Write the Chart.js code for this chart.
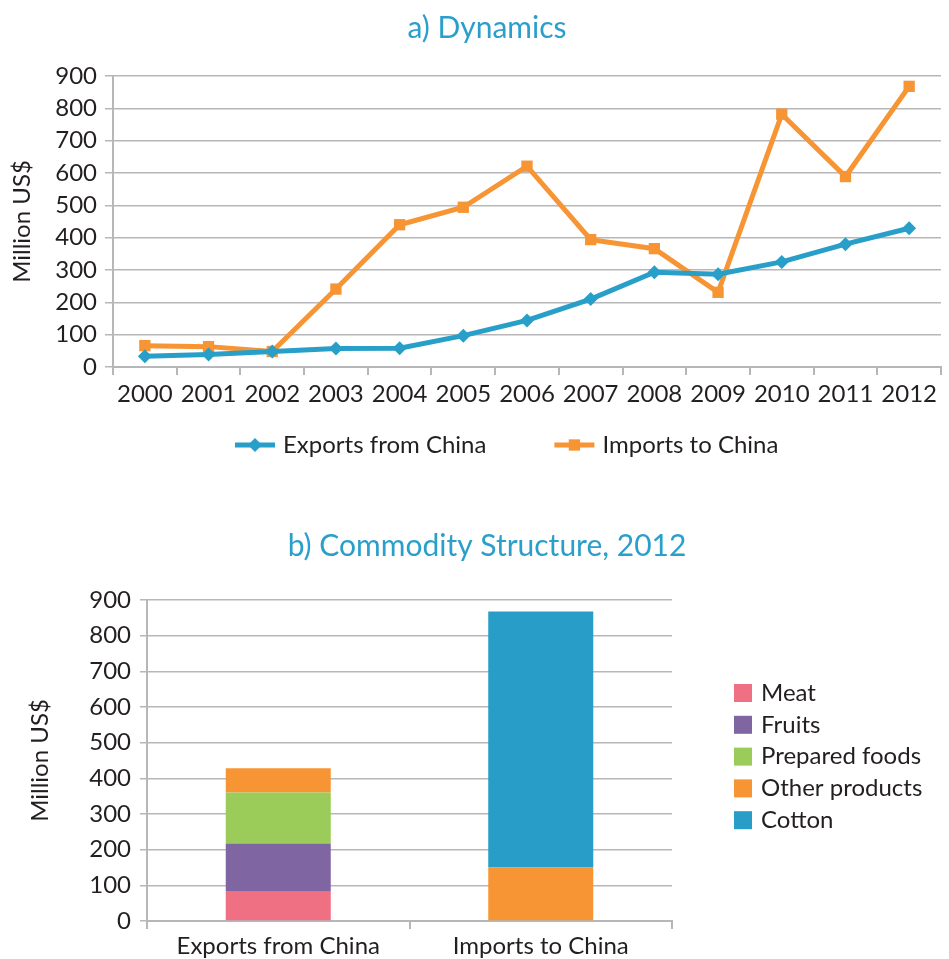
<!DOCTYPE html>
<html>
<head>
<meta charset="utf-8">
<script src="https://cdn.jsdelivr.net/npm/chart.js@4/dist/chart.umd.min.js"></script>
<style>
  html, body { margin: 0; padding: 0; background: #ffffff; }
  #wrap { position: relative; width: 949px; height: 959px; overflow: hidden; }
  canvas { position: absolute; left: 0; }
  #c1 { top: 0; }
  #c2 { top: 480px; }
</style>
</head>
<body>
<div id="wrap">
  <canvas id="c1" width="949" height="480"></canvas>
  <canvas id="c2" width="949" height="479"></canvas>
</div>
<script>
// ---- Data ----
const years = ['2000','2001','2002','2003','2004','2005','2006','2007','2008','2009','2010','2011','2012'];
const exportsFromChina = [33, 39, 48, 57, 58, 97, 144, 210, 293, 287, 325, 380, 429];
const importsToChina   = [66, 63, 48, 241, 440, 494, 621, 394, 366, 231, 782, 589, 868];

const structCategories = ['Exports from China', 'Imports to China'];
const meat          = [82, 0];
const fruits        = [135, 0];
const preparedFoods = [143, 0];
const otherProducts = [68, 150];
const cotton        = [0, 718];

const yTicksMax = 900;
const yTicksStep = 100;

const titleA = 'a) Dynamics';
const titleB = 'b) Commodity Structure, 2012';
const yAxisTitle = 'Million US$';

// ---- Style ----
const FONT = 'Lato';
const TEXT = '#231f20';
const TITLE = '#2b9fcb';
const GRID = '#b7b7b9';
const BLUE = '#289fc9';
const ORANGE = '#f79433';

Chart.defaults.font.family = FONT;
Chart.defaults.color = TEXT;
Chart.defaults.animation = false;

function drawMarker(ctx, style, x, y, r, color) {
  ctx.fillStyle = color;
  ctx.beginPath();
  if (style === 'rectRot') {
    ctx.moveTo(x - r, y); ctx.lineTo(x, y - r); ctx.lineTo(x + r, y); ctx.lineTo(x, y + r);
  } else {
    const s = Math.SQRT1_2 * r;
    ctx.rect(x - s, y - s, 2 * s, 2 * s);
  }
  ctx.closePath();
  ctx.fill();
}

// Title centred at a fixed x across the page
const centerTitle = {
  id: 'centerTitle',
  afterDraw(chart, args, opts) {
    const ctx = chart.ctx;
    ctx.save();
    ctx.font = '30px ' + FONT;
    ctx.fillStyle = TITLE;
    ctx.textAlign = 'center';
    ctx.textBaseline = 'middle';
    ctx.fillText(opts.text, opts.x, opts.y);
    ctx.restore();
  }
};

const lineLegend = {
  id: 'lineLegend',
  afterDraw(chart) {
    const ctx = chart.ctx;
    ctx.save();
    ctx.font = '24px ' + FONT;
    ctx.textBaseline = 'middle';
    ctx.textAlign = 'left';
    let x = 235;
    const y = 445;
    chart.data.datasets.forEach(ds => {
      ctx.strokeStyle = ds.borderColor;
      ctx.lineWidth = 5;
      ctx.beginPath(); ctx.moveTo(x, y); ctx.lineTo(x + 40, y); ctx.stroke();
      drawMarker(ctx, ds.pointStyle, x + 20, y, ds.pointRadius, ds.pointBackgroundColor);
      ctx.fillStyle = TEXT;
      ctx.fillText(ds.label, x + 48, y);
      x += 48 + ctx.measureText(ds.label).width + 68;
    });
    ctx.restore();
  }
};

const boxLegend = {
  id: 'boxLegend',
  afterDraw(chart) {
    const ctx = chart.ctx;
    ctx.save();
    ctx.font = '24px ' + FONT;
    ctx.textBaseline = 'middle';
    ctx.textAlign = 'left';
    let y = 213;
    chart.data.datasets.forEach(ds => {
      ctx.fillStyle = ds.backgroundColor;
      ctx.fillRect(734, y - 9, 18, 18);
      ctx.fillStyle = TEXT;
      ctx.fillText(ds.label, 761, y);
      y += 31.8;
    });
    ctx.restore();
  }
};

// ---- Chart a) ----
new Chart(document.getElementById('c1'), {
  type: 'line',
  data: {
    labels: years,
    datasets: [
      {
        label: 'Exports from China', data: exportsFromChina,
        borderColor: BLUE, backgroundColor: BLUE, borderWidth: 5,
        pointStyle: 'rectRot', pointRadius: 7, pointBackgroundColor: BLUE, pointBorderWidth: 0,
        tension: 0
      },
      {
        label: 'Imports to China', data: importsToChina,
        borderColor: ORANGE, backgroundColor: ORANGE, borderWidth: 5,
        pointStyle: 'rect', pointRadius: 8, pointBackgroundColor: ORANGE, pointBorderWidth: 0,
        tension: 0
      }
    ]
  },
  options: {
    responsive: false,
    layout: { padding: { left: 0, right: 0, top: 76, bottom: 73 } },
    plugins: {
      legend: { display: false },
      tooltip: { enabled: false },
      title: { display: false },
      centerTitle: { text: titleA, x: 487, y: 28 }
    },
    scales: {
      x: {
        offset: true,
        grid: { display: true, drawOnChartArea: false, drawTicks: true, tickLength: 8, offset: true, color: GRID, lineWidth: 2 },
        border: { display: true, color: GRID, width: 2 },
        ticks: { font: { size: 24 }, color: TEXT, padding: 5, maxRotation: 0, autoSkip: false },
        afterFit(scale) { scale.height = 40; }
      },
      y: {
        min: 0, max: yTicksMax,
        ticks: { stepSize: yTicksStep, font: { size: 24 }, color: TEXT, padding: 8 },
        grid: { color: GRID, lineWidth: 1.5, tickLength: 8 },
        border: { display: true, color: GRID, width: 2 },
        title: { display: true, text: yAxisTitle, font: { size: 24 }, color: TEXT, padding: { top: 8, bottom: 0 } },
        afterFit(scale) { scale.width = 113; }
      }
    }
  },
  plugins: [centerTitle, lineLegend]
});

// ---- Chart b) ----
new Chart(document.getElementById('c2'), {
  type: 'bar',
  data: {
    labels: structCategories,
    datasets: [
      { label: 'Meat', data: meat, backgroundColor: '#f07083' },
      { label: 'Fruits', data: fruits, backgroundColor: '#8065a3' },
      { label: 'Prepared foods', data: preparedFoods, backgroundColor: '#9bcc5a' },
      { label: 'Other products', data: otherProducts, backgroundColor: '#f79433' },
      { label: 'Cotton', data: cotton, backgroundColor: '#279dc7' }
    ]
  },
  options: {
    responsive: false,
    layout: { padding: { left: 0, right: 277, top: 120, bottom: 0 } },
    datasets: { bar: { categoryPercentage: 1, barPercentage: 0.4, borderWidth: 0 } },
    plugins: {
      legend: { display: false },
      tooltip: { enabled: false },
      title: { display: false },
      centerTitle: { text: titleB, x: 487, y: 66 }
    },
    scales: {
      x: {
        stacked: true,
        grid: { display: true, drawOnChartArea: false, drawTicks: true, tickLength: 8, offset: true, color: GRID, lineWidth: 2 },
        border: { display: true, color: GRID, width: 2 },
        ticks: { font: { size: 24 }, color: TEXT, padding: 3, maxRotation: 0, autoSkip: false },
        afterFit(scale) { scale.height = 38; }
      },
      y: {
        stacked: true,
        min: 0, max: yTicksMax,
        ticks: { stepSize: yTicksStep, font: { size: 24 }, color: TEXT, padding: 9 },
        grid: { color: GRID, lineWidth: 1.5, tickLength: 7 },
        border: { display: true, color: GRID, width: 2 },
        title: { display: true, text: yAxisTitle, font: { size: 24 }, color: TEXT, padding: { top: 26, bottom: 0 } },
        afterFit(scale) { scale.width = 147; }
      }
    }
  },
  plugins: [centerTitle, boxLegend]
});
</script>
</body>
</html>
